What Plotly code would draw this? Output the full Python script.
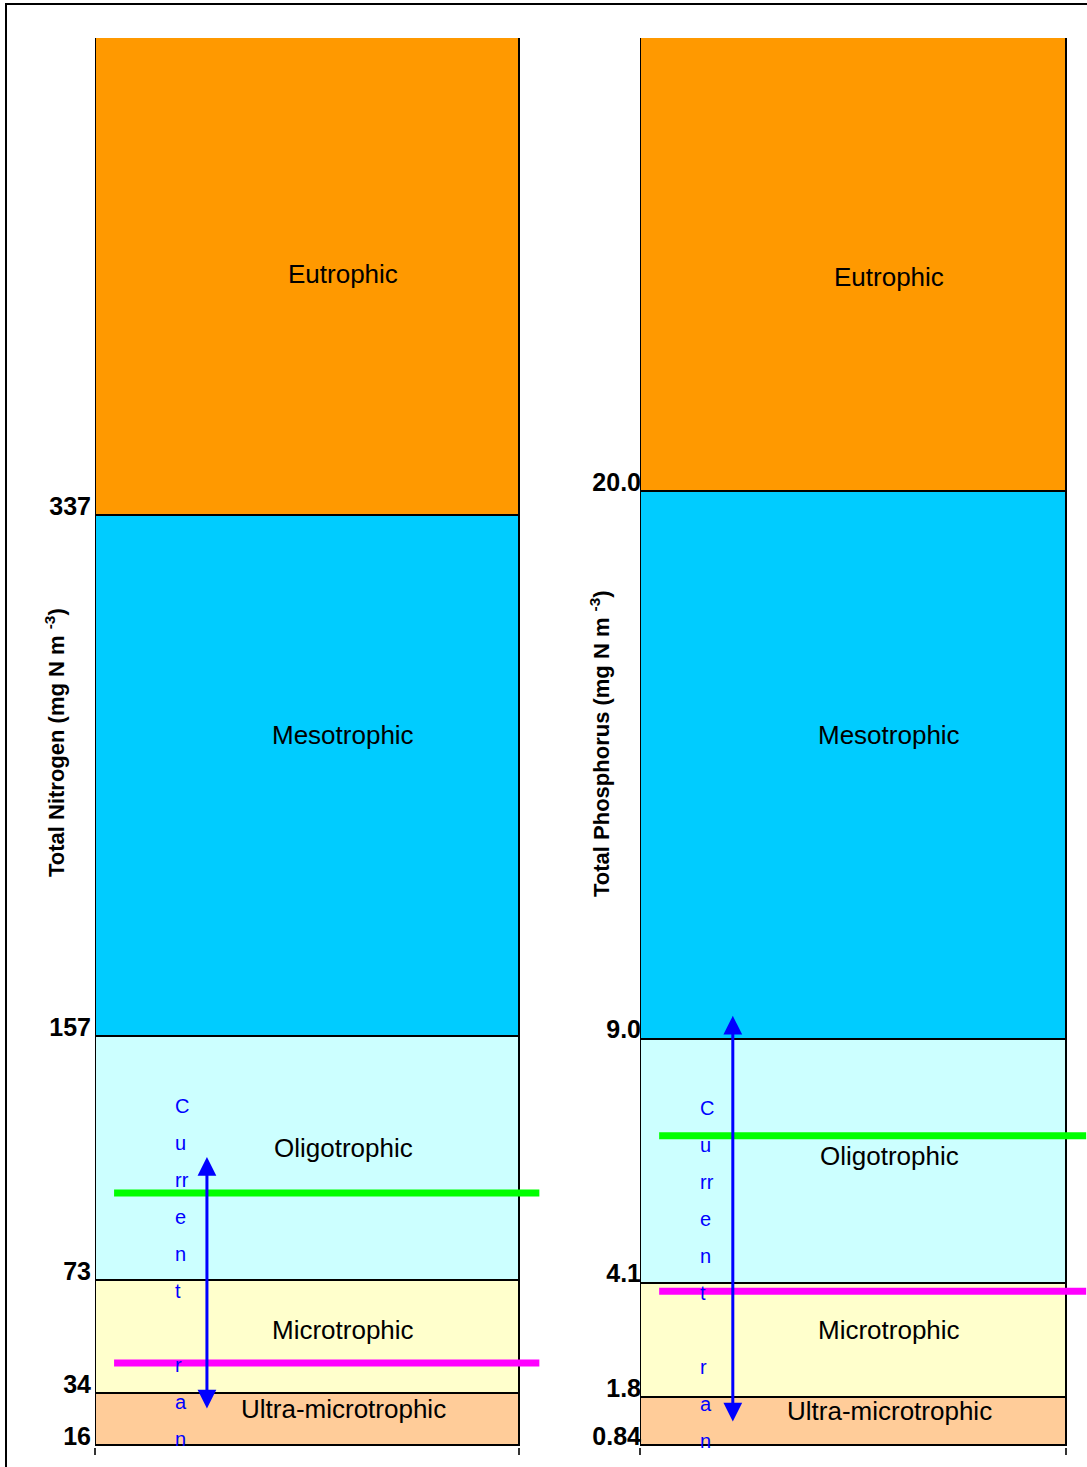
import plotly.graph_objects as go

# ---------------- data ----------------
zones = ["Ultra-microtrophic", "Microtrophic", "Oligotrophic", "Mesotrophic", "Eutrophic"]
zone_colors = ["#FFCC99", "#FFFFCC", "#CCFFFF", "#00CCFF", "#FF9900"]

# zone boundaries (bottom of each zone ... top of the last)
tn_bounds = [16, 34, 73, 157, 337, 505]
tn_ticks = ["16", "34", "73", "157", "337"]
tp_bounds = [0.84, 1.8, 4.1, 9.0, 20.0, 29.3]
tp_ticks = ["0.84", "1.8", "4.1", "9.0", "20.0"]

# y positions of zone labels
tn_label_y = [28.4, 55.7, 118.5, 261, 420]
tp_label_y = [1.52, 3.15, 6.64, 15.1, 24.3]

# reference lines
tn_green = 103.0
tn_magenta = 44.3
tp_green = 7.05
tp_magenta = 3.93

# current range arrows [low, high]
tn_current = [28.1, 115.4]
tp_current = [1.28, 9.46]

current_lines = ["C", "u", "rr", "e", "n", "t", "", "r", "a", "n"]

# ---------------- style ----------------
W, H = 1087, 1467
FONT = "Liberation Sans, Arial, sans-serif"
PLOT_TOP, PLOT_BOT = 38, 1447


def py(pix):
    return (H - pix) / H


fig = go.Figure()

panels = [
    dict(x="x", y="y", bounds=tn_bounds, ticks=tn_ticks, label_y=tn_label_y,
         green=tn_green, magenta=tn_magenta, current=tn_current,
         xdom=[95 / W, (95 + 424 * 1.1) / W], xr=[0, 1.1], yr=[15.31, 501.6],
         arrow_x=0.264, letters_x=0.184, letters_top=1106,
         standoff=3, title="Total Nitrogen (mg N m <sup>-3</sup>)", title_x=55, title_y=743),
    dict(x="x2", y="y2", bounds=tp_bounds, ticks=tp_ticks, label_y=tp_label_y,
         green=tp_green, magenta=tp_magenta, current=tp_current,
         xdom=[640 / W, 1.0], xr=[0, 1.05], yr=[0.80, 29.10],
         arrow_x=0.218, letters_x=0.136, letters_top=1108,
         standoff=-2, title="Total Phosphorus (mg N m <sup>-3</sup>)", title_x=600, title_y=744),
]

annotations = []
for p in panels:
    b = p["bounds"]
    for i, z in enumerate(zones):
        fig.add_trace(go.Bar(
            x=[0.5], y=[b[i + 1] - b[i]], base=[b[i]], width=[1],
            marker=dict(color=zone_colors[i], line=dict(color="#000000", width=2)),
            xaxis=p["x"], yaxis=p["y"], showlegend=False, hoverinfo="skip",
        ))
    for val, col in [(p["green"], "#00FF00"), (p["magenta"], "#FF00FF")]:
        fig.add_trace(go.Scatter(
            x=[0.045, 1.048], y=[val, val], mode="lines",
            line=dict(color=col, width=7),
            xaxis=p["x"], yaxis=p["y"], showlegend=False, hoverinfo="skip",
        ))
    for z, ly in zip(zones, p["label_y"]):
        annotations.append(dict(
            x=0.585, y=ly, xref=p["x"], yref=p["y"], text=z, showarrow=False,
            font=dict(family=FONT, size=26, color="#000000"),
        ))
    # current range arrow
    annotations.append(dict(
        x=p["arrow_x"], y=p["current"][1], ax=p["arrow_x"], ay=p["current"][0],
        xref=p["x"], yref=p["y"], axref=p["x"], ayref=p["y"],
        text="", showarrow=True, arrowhead=2, arrowside="end+start",
        arrowwidth=3, arrowsize=1.25, arrowcolor="#0000FF", standoff=0, startstandoff=0,
    ))
    for i, ch in enumerate(current_lines):
        if not ch:
            continue
        annotations.append(dict(
            x=p["letters_x"], y=py(p["letters_top"] + i * 37), xref=p["x"], yref="paper",
            xanchor="left", yanchor="middle", text=ch, showarrow=False,
            font=dict(family=FONT, size=20, color="#0000FF"),
        ))
    annotations.append(dict(
        x=p["title_x"] / W, y=py(p["title_y"]), xref="paper", yref="paper",
        xanchor="center", yanchor="middle",
        text=p["title"], textangle=-90, showarrow=False,
        font=dict(family=FONT, size=22, color="#000000", weight="bold"),
    ))

axis_common_x = dict(showgrid=False, zeroline=False, showline=False, tickvals=[0, 1],
                     ticks="outside", ticklen=7, tickwidth=1.5, tickcolor="#333333",
                     showticklabels=False, fixedrange=True, automargin=False)

layout_axes = {}
for idx, p in enumerate(panels):
    sx = "" if idx == 0 else str(idx + 1)
    layout_axes["xaxis" + sx] = dict(axis_common_x, domain=p["xdom"], range=p["xr"],
                                     anchor=p["y"])
    layout_axes["yaxis" + sx] = dict(
        domain=[py(PLOT_BOT), py(PLOT_TOP)], range=p["yr"], anchor=p["x"],
        showgrid=False, zeroline=False, showline=False, ticks="",
        tickvals=p["bounds"][:-1], ticktext=p["ticks"],
        tickfont=dict(family=FONT, size=25, color="#000000", weight="bold"),
        ticklabelshift=-9, ticklabelstandoff=p["standoff"],
        fixedrange=True, automargin=False,
    )

fig.update_layout(
    template="none",
    width=W, height=H,
    margin=dict(l=0, r=0, t=0, b=0, pad=0),
    paper_bgcolor="#FFFFFF", plot_bgcolor="rgba(0,0,0,0)",
    barmode="overlay", bargap=0,
    showlegend=False,
    font=dict(family=FONT),
    annotations=annotations,
    shapes=[dict(type="rect", xref="paper", yref="paper",
                 x0=6 / W, x1=1.02, y0=-0.02, y1=py(4),
                 line=dict(color="#000000", width=2), fillcolor="rgba(0,0,0,0)",
                 layer="below")],
    **layout_axes,
)

fig.write_html("out.html", config={"displayModeBar": False},
               post_script="document.body.style.margin='0';document.body.style.overflow='hidden';")
